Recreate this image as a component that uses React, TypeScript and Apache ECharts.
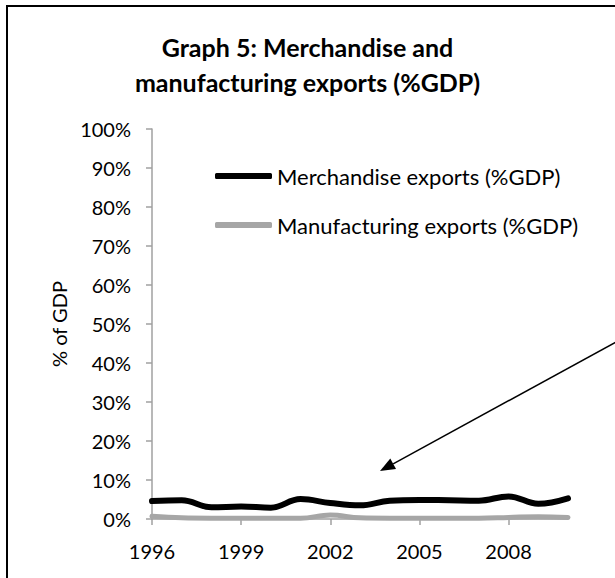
import React, { useEffect, useRef } from "react";
import * as echarts from "echarts";

const years = ["1996","1997","1998","1999","2000","2001","2002","2003","2004","2005","2006","2007","2008","2009","2010"];
const merchandise = [4.6, 4.8, 3.0, 3.2, 2.9, 5.1, 4.1, 3.5, 4.7, 4.9, 4.8, 4.7, 5.8, 3.9, 5.3];
const manufacturing = [0.7, 0.3, 0.2, 0.2, 0.2, 0.2, 1.0, 0.3, 0.2, 0.2, 0.2, 0.2, 0.4, 0.6, 0.4];
const seriesNames = ["Merchandise exports (%GDP)", "Manufacturing exports (%GDP)"];
const titleText = "Graph 5: Merchandise and\nmanufacturing exports (%GDP)";
const yAxisName = "% of GDP";

const FONT = "Lato, 'Open Sans', sans-serif";

export default function App() {
  const ref = useRef<HTMLDivElement>(null);
  useEffect(() => {
    if (!ref.current) return;
    const chart = echarts.init(ref.current, undefined, { renderer: "svg" });
    const tip = [380, 471];
    const start = [616, 342];
    const dx = tip[0] - start[0], dy = tip[1] - start[1];
    const len = Math.sqrt(dx * dx + dy * dy);
    const ux = dx / len, uy = dy / len;
    const bx = tip[0] - 15 * ux, by = tip[1] - 15 * uy;
    const nx = -uy, ny = ux;
    chart.setOption({
      animation: false,
      backgroundColor: "#fff",
      title: {
        text: titleText,
        left: "center",
        top: 29,
        padding: 0,
        textStyle: { fontFamily: FONT, fontWeight: "bold", fontSize: 25, color: "#000", lineHeight: 35 },
      },
      legend: {
        orient: "vertical",
        left: 215,
        top: 164,
        padding: 0,
        itemWidth: 57,
        itemHeight: 6,
        itemGap: 25,
        icon: "roundRect",
        data: seriesNames,
        textStyle: { fontFamily: FONT, fontSize: 22, color: "#000", lineHeight: 24 },
      },
      grid: { left: 152, right: 47, top: 129, bottom: 59, containLabel: false },
      xAxis: {
        type: "category",
        data: years,
        boundaryGap: false,
        axisLine: { lineStyle: { color: "#a0a0a0", width: 1.5 } },
        axisTick: { interval: 2, length: 6, lineStyle: { color: "#a0a0a0", width: 1.5 } },
        axisLabel: { interval: 2, fontFamily: FONT, fontSize: 20, color: "#000", margin: 22 },
      },
      yAxis: {
        type: "value",
        min: 0,
        max: 100,
        interval: 10,
        name: yAxisName,
        nameLocation: "middle",
        nameRotate: 90,
        nameGap: 82,
        nameTextStyle: { fontFamily: FONT, fontSize: 20, color: "#000" },
        splitLine: { show: false },
        axisLine: { show: true, lineStyle: { color: "#a0a0a0", width: 1.5 } },
        axisTick: { show: true, length: 6, lineStyle: { color: "#a0a0a0", width: 1.5 } },
        axisLabel: { formatter: "{value}%", fontFamily: FONT, fontSize: 20, color: "#000", margin: 21 },
      },
      series: [
        {
          name: seriesNames[0],
          type: "line",
          data: merchandise,
          smooth: 0.4,
          showSymbol: false,
          symbol: "none",
          lineStyle: { color: "#000", width: 6, cap: "round" },
          itemStyle: { color: "#000" },
          z: 3,
        },
        {
          name: seriesNames[1],
          type: "line",
          data: manufacturing,
          smooth: 0.4,
          showSymbol: false,
          symbol: "none",
          lineStyle: { color: "#a6a6a6", width: 5, cap: "round" },
          itemStyle: { color: "#a6a6a6" },
          z: 2,
        },
      ],
      graphic: [
        {
          type: "rect",
          shape: { x: 7, y: 6, width: 800, height: 800 },
          style: { fill: "none", stroke: "#000", lineWidth: 2 },
          silent: true,
        },
        {
          type: "line",
          shape: { x1: start[0], y1: start[1], x2: bx, y2: by },
          style: { stroke: "#000", lineWidth: 1.5 },
          silent: true,
        },
        {
          type: "polygon",
          shape: { points: [[tip[0], tip[1]], [bx + 6 * nx, by + 6 * ny], [bx - 6 * nx, by - 6 * ny]] },
          style: { fill: "#000" },
          silent: true,
        },
      ],
    });
    return () => chart.dispose();
  }, []);
  return <div ref={ref} style={{ position: "fixed", left: 0, top: 0, width: 615, height: 578 }} />;
}
